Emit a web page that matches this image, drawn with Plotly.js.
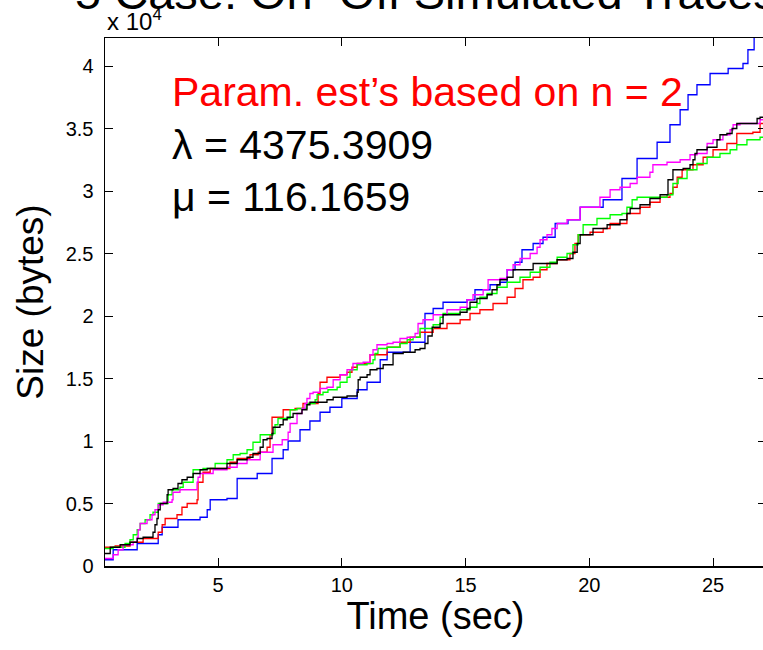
<!DOCTYPE html>
<html>
<head>
<meta charset="utf-8">
<script src="https://cdn.plot.ly/plotly-3.0.1.min.js"></script>
<style>
html,body{margin:0;padding:0;overflow:hidden;background:#fff;width:763px;height:650px;}
#chart{position:absolute;left:0;top:-40px;width:790px;height:690px;}
</style>
</head>
<body>
<div id="chart"></div>
<script>
// Time (sec) and cumulative size (bytes) for five simulated traces
const blueT = [0.43,0.76,1.73,2.58,2.74,3.38,4.27,4.56,4.68,5.36,5.77,6.58,7.18,7.63,7.83,8.31,8.71,9.12,9.52,10.0,10.62,11.02,11.55,11.83,12.76,13.36,13.69,14.09,15.06,15.38,15.99,16.39,16.68,17.0,17.28,17.73,18.13,18.62,19.14,19.63,20.56,21.32,21.93,22.74,23.26,23.67,23.99,24.35,24.88,25.61,26.21,26.41,26.66,27.3];
const blueY = [500,1300,1800,2500,3100,3700,3900,4500,5300,5400,7000,7400,8600,9300,10000,10900,11600,12300,12700,13400,14100,14700,16500,17100,17900,20200,20600,21100,21300,22100,22500,22700,23700,24300,25300,25800,26300,27400,27700,28700,29300,31000,32600,33900,35300,36500,37700,38500,39400,39800,40200,41300,42300,44500];

const redT = [0.43,0.84,1.44,1.97,2.58,2.74,2.86,3.34,3.54,3.75,4.15,4.19,4.39,4.68,5.48,5.77,6.29,6.62,6.98,7.10,7.18,7.63,8.11,8.43,9.04,9.12,9.40,9.93,10.21,10.41,10.62,11.14,11.83,12.35,12.76,13.16,13.69,14.25,14.78,15.18,15.58,16.11,16.68,17.0,17.32,17.73,18.01,18.29,18.70,19.22,19.42,19.55,20.03,20.56,20.84,21.52,22.05,22.45,22.86,23.26,23.38,23.55,23.75,24.19,24.60,25.0,25.56,25.96,26.61,26.90,27.2];
const redY = [1500,1600,1900,2200,2700,3300,3800,4100,4700,5000,5300,6700,7500,7800,8300,8600,8900,9100,9500,10500,11900,12500,12600,13000,13800,14700,15100,15300,15500,15900,16200,16900,17500,17900,18300,18700,19000,19400,19700,20200,20500,21000,21500,22200,22900,23100,23700,24200,24500,25000,25800,26500,26700,27000,27400,28200,28700,29100,29500,29800,30300,31100,31700,32100,32700,33300,33800,34600,34700,35400,35800];

const greenT = [0.43,0.76,1.24,1.44,1.57,1.73,1.85,2.05,2.25,2.37,2.58,2.98,3.14,3.46,3.59,3.99,4.39,4.88,5.36,5.61,5.89,6.17,6.41,6.70,7.22,7.30,7.42,7.91,8.19,8.59,8.92,9.00,9.24,9.44,9.81,9.93,10.21,10.33,10.62,11.02,11.26,11.34,11.46,11.83,12.35,12.64,12.88,13.16,13.69,13.97,14.09,14.78,15.18,15.46,15.58,15.87,16.27,16.68,17.20,17.61,18.01,18.41,18.70,19.10,19.34,19.55,19.75,20.31,20.84,21.32,21.52,21.73,21.93,23.14,23.38,23.59,23.95,24.35,24.76,25.28,25.69,25.96,26.37,26.90,27.2];
const greenY = [1400,1500,1800,2100,2500,2900,3400,3700,4100,4300,5000,5700,6100,6300,6700,7700,7800,8200,8500,8900,9000,9300,9900,10500,10600,11300,11800,12500,12600,13000,13300,13700,13900,14100,14300,14700,15100,15700,16100,16200,16500,17000,17400,17500,17800,18100,18300,19000,19300,19900,20200,20500,20700,21000,21500,21800,22300,22700,23100,23500,23900,24300,24700,25000,25700,26500,27300,27800,28100,28200,28700,29300,29500,29700,30600,31000,31700,32200,32700,33000,33300,33700,34100,34300,34500];

const magentaT = [0.43,0.76,0.96,1.16,1.57,1.73,1.77,1.85,2.13,2.33,2.45,2.58,2.78,3.14,3.18,3.46,4.15,4.19,4.27,4.80,5.36,5.77,6.17,6.70,7.22,7.59,7.83,7.91,8.19,8.39,8.51,8.59,8.71,8.84,9.12,9.40,9.65,9.93,10.21,10.45,10.86,11.14,11.26,11.42,11.83,12.07,12.35,12.64,12.96,13.08,13.28,13.69,14.25,14.78,15.06,15.30,15.71,15.91,16.39,16.68,16.92,17.20,17.61,17.89,18.01,18.29,18.49,18.70,19.10,19.63,20.43,20.84,21.24,21.65,21.93,22.45,22.57,23.14,23.67,24.07,24.35,24.76,25.00,25.40,25.69,25.81,26.09,26.90,27.2];
const magentaY = [600,900,1300,1700,1900,2300,2900,3400,3700,4100,4500,4900,5100,5300,5900,6100,6700,7100,7400,7700,7900,8200,8500,9100,9700,10100,10700,11400,12200,12600,13000,13400,13800,13900,14200,14300,14900,15300,15700,16200,16300,16900,17300,17700,17800,17900,18200,18300,18600,19400,19700,20100,20500,20700,21300,21700,22100,22900,23000,23700,24100,24600,25000,25500,26100,26500,27000,27400,27700,28700,29500,30100,30300,30600,31100,31500,32100,32300,32500,32900,33000,33800,34100,34500,34900,35300,35400,35700,35900];

const blackT = [0.43,0.64,1.04,1.44,1.73,1.97,2.37,2.45,2.53,2.58,2.66,2.94,2.98,3.18,3.38,3.54,3.75,3.99,4.27,4.56,5.36,5.77,6.17,6.41,6.70,6.82,6.98,7.18,7.22,7.50,7.63,7.79,8.03,8.39,8.59,8.71,9.40,9.65,10.21,10.62,10.66,10.74,11.02,11.14,11.42,11.67,12.07,12.48,12.96,13.16,13.36,13.48,13.65,13.97,14.09,14.78,15.06,15.18,15.46,15.87,16.07,16.27,16.39,16.68,16.92,17.73,18.70,19.10,19.34,19.51,19.63,20.15,20.72,21.24,21.52,21.65,22.05,22.45,22.86,23.18,23.38,23.79,24.07,24.19,24.27,24.35,24.76,25.16,25.28,25.56,25.77,25.96,26.78,26.90,27.2];
const blackY = [1000,1500,1700,1900,2200,2300,2700,3300,3800,4500,5000,5700,6100,6200,6600,6900,7100,7400,7700,7800,8200,8500,8700,9000,9500,10100,10200,10600,11100,11300,11700,11900,12200,12500,12900,13100,13300,13500,13600,13900,14900,15100,15300,15700,15800,16100,17000,17100,17300,17400,17800,18400,19100,19400,20100,20300,20600,21100,21400,21700,22100,22500,22900,23100,23700,24200,24500,24600,25100,25800,26500,27000,27300,27700,28200,28600,28900,29400,29700,30900,31700,31800,32100,32500,33000,33300,33500,34100,34500,34600,35000,35400,35800,35900,36000];

const xTicks = [5,10,15,20,25];
const yTickVals = [0,5000,10000,15000,20000,25000,30000,35000,40000];
const yTickText = ['0','0.5','1','1.5','2','2.5','3','3.5','4'];

const titleText = '5 Case: On\u2013Off Simulated Traces';
const paramText = 'Param. est\u2019s based on n = 2';
const lambdaText = '\u03bb = 4375.3909';
const muText = '\u03bc = 116.1659';
const expText = 'x 10<sup>4</sup>';

const FONT = 'Liberation Sans, Arial, Helvetica, sans-serif';

function tr(x, y, color) {
  return {x: x, y: y, type: 'scatter', mode: 'lines',
          line: {color: color, width: 1.3, shape: 'hv'}, hoverinfo: 'skip', showlegend: false};
}

const data = [
  tr(blueT, blueY, '#0000ff'),
  tr(redT, redY, '#ff0000'),
  tr(greenT, greenY, '#00ff00'),
  tr(magentaT, magentaY, '#ff00ff'),
  tr(blackT, blackY, '#000000')
];

const axisCommon = {
  showgrid: false, zeroline: false, showline: true, linecolor: '#000', linewidth: 1.5,
  mirror: 'ticks', ticks: 'inside', ticklen: 8, tickwidth: 1, tickcolor: '#000',
  tickfont: {family: FONT, size: 20, color: '#000'}
};

const layout = {
  width: 790, height: 690,
  margin: {l: 105, r: 24, t: 78, b: 84},
  paper_bgcolor: '#fff', plot_bgcolor: '#fff',
  font: {family: FONT, color: '#000'},
  title: {text: titleText, font: {family: FONT, size: 47, color: '#000'},
          xref: 'container', x: 75/790, xanchor: 'left',
          yref: 'container', y: 1 - 33/690, yanchor: 'middle'},
  xaxis: Object.assign({}, axisCommon, {
    range: [0.43, 27.14], tickmode: 'array', tickvals: xTicks,
    title: {text: 'Time (sec)', font: {family: FONT, size: 38, color: '#000'}, standoff: 8}
  }),
  yaxis: Object.assign({}, axisCommon, {
    range: [0, 42240], tickmode: 'array', tickvals: yTickVals, ticktext: yTickText,
    ticklabelstandoff: 6,
    title: {text: 'Size (bytes)', font: {family: FONT, size: 37, color: '#000'}, standoff: 10}
  }),
  annotations: [
    {xref: 'paper', yref: 'paper', x: 0.0985, y: 0.898, xanchor: 'left', yanchor: 'middle',
     text: paramText, showarrow: false, font: {family: FONT, size: 41, color: '#ff0000'}},
    {xref: 'paper', yref: 'paper', x: 0.0985, y: 0.798, xanchor: 'left', yanchor: 'middle',
     text: lambdaText, showarrow: false, font: {family: FONT, size: 41, color: '#000'}},
    {xref: 'paper', yref: 'paper', x: 0.0985, y: 0.699, xanchor: 'left', yanchor: 'middle',
     text: muText, showarrow: false, font: {family: FONT, size: 41, color: '#000'}},
    {xref: 'paper', yref: 'paper', x: 0, y: 1.035, xanchor: 'left', yanchor: 'middle',
     text: expText, showarrow: false, font: {family: FONT, size: 24, color: '#000'}}
  ]
};

Plotly.newPlot('chart', data, layout, {staticPlot: true, displayModeBar: false});
</script>
</body>
</html>
